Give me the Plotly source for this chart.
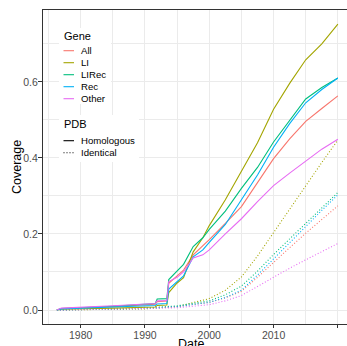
import plotly.graph_objects as go

# ---------------- data ----------------
genes = ["All", "LI", "LIRec", "Rec", "Other"]
gene_colors = ["#F8766D", "#A3A500", "#00BF7D", "#00B0F6", "#E76BF3"]
pdb_types = ["Homologous", "Identical"]
pdb_dash = ["solid", "1px,2px"]

years_hom = [1976.3, 1977, 1985, 1991.6, 1991.9, 1993.4, 1993.7, 1995, 1996, 1997.5,
             1999, 2000, 2002.5, 2005, 2007.5, 2010, 2012.5, 2015, 2017.5, 2020]
all_hom = [0.0, 0.004, 0.009, 0.015, 0.022, 0.024, 0.070, 0.089, 0.105, 0.145,
           0.168, 0.185, 0.228, 0.272, 0.335, 0.398, 0.450, 0.496, 0.530, 0.563]
li_hom = [0.0, 0.002, 0.005, 0.008, 0.012, 0.013, 0.046, 0.071, 0.085, 0.153,
          0.190, 0.222, 0.290, 0.365, 0.440, 0.528, 0.596, 0.658, 0.700, 0.752]
lirec_hom = [0.0, 0.004, 0.010, 0.017, 0.029, 0.030, 0.080, 0.103, 0.120, 0.167,
             0.190, 0.212, 0.260, 0.320, 0.375, 0.442, 0.500, 0.555, 0.585, 0.610]
rec_hom = [0.0, 0.003, 0.008, 0.012, 0.016, 0.017, 0.055, 0.076, 0.090, 0.140,
           0.158, 0.178, 0.225, 0.290, 0.355, 0.428, 0.490, 0.545, 0.580, 0.610]
other_hom = [0.0, 0.005, 0.011, 0.017, 0.024, 0.025, 0.075, 0.086, 0.100, 0.137,
             0.145, 0.158, 0.200, 0.240, 0.285, 0.327, 0.360, 0.392, 0.423, 0.449]

years_ide = [1976.3, 1985, 1990, 1995, 2000, 2002.5, 2005, 2007.5, 2010, 2012.5, 2015, 2017.5, 2020]
all_ide = [0.0, 0.002, 0.004, 0.009, 0.020, 0.032, 0.049, 0.086, 0.126, 0.164, 0.202, 0.238, 0.274]
li_ide = [0.0, 0.001, 0.003, 0.009, 0.030, 0.052, 0.087, 0.142, 0.204, 0.263, 0.327, 0.388, 0.447]
lirec_ide = [0.0, 0.002, 0.005, 0.011, 0.024, 0.040, 0.063, 0.102, 0.146, 0.187, 0.228, 0.268, 0.309]
rec_ide = [0.0, 0.002, 0.004, 0.009, 0.020, 0.033, 0.052, 0.092, 0.135, 0.178, 0.219, 0.262, 0.303]
other_ide = [0.0, 0.002, 0.003, 0.006, 0.014, 0.024, 0.038, 0.062, 0.088, 0.110, 0.132, 0.153, 0.175]

x_tick_vals = [1980, 1990, 2000, 2010, 2020]
y_tick_vals = [0.0, 0.2, 0.4, 0.6]
y_tick_text = ["0.0", "0.2", "0.4", "0.6"]
x_title = "Date"
y_title = "Coverage"

hom_series = [all_hom, li_hom, lirec_hom, rec_hom, other_hom]
ide_series = [all_ide, li_ide, lirec_ide, rec_ide, other_ide]

# ---------------- figure ----------------
W, H = 347, 346
ML, MR, MT, MB = 43, 0, 10, 22
FONT = "Liberation Sans, Arial, sans-serif"
LW = 1.1

fig = go.Figure()
for g, c, ys in zip(genes, gene_colors, ide_series):
    fig.add_trace(go.Scatter(x=years_ide, y=ys, mode="lines", name=g + " (Identical)",
                             line=dict(color=c, width=LW, dash=pdb_dash[1]), showlegend=False))
for g, c, ys in zip(genes, gene_colors, hom_series):
    fig.add_trace(go.Scatter(x=years_hom, y=ys, mode="lines", name=g + " (Homologous)",
                             line=dict(color=c, width=LW), showlegend=False))

grid = "#EBEBEB"
axis_col = "#333333"
fig.update_xaxes(range=[1974.14, 2021.42], tickvals=x_tick_vals, ticks="outside", ticklen=3,
                 tickcolor=axis_col, tickwidth=1, showline=True, linecolor=axis_col, linewidth=1,
                 mirror=True, showgrid=True, gridcolor=grid, gridwidth=1, zeroline=False,
                 tickfont=dict(family=FONT, size=10.5, color="#4D4D4D"), ticklabelstandoff=-2,
                 minor=dict(tick0=1975, dtick=10, showgrid=True, gridcolor=grid, gridwidth=0.6, ticks=""),
                 automargin=False)
fig.update_yaxes(range=[-0.0368, 0.789], tickvals=y_tick_vals, ticktext=y_tick_text, ticks="outside",
                 ticklen=4, tickcolor=axis_col, tickwidth=1, showline=True, linecolor=axis_col,
                 linewidth=1, showgrid=True, gridcolor=grid, gridwidth=1, zeroline=False,
                 tickfont=dict(family=FONT, size=10.5, color="#4D4D4D"), ticklabelstandoff=-2,
                 minor=dict(tick0=0.1, dtick=0.2, showgrid=True, gridcolor=grid, gridwidth=0.6, ticks=""),
                 automargin=False)

# ---------------- manual legend (ggplot-style spacing) and axis titles ----------------
pw, ph = W - ML - MR, H - MT - MB


def px(x):
    return (x - ML) / pw


def py(y):
    return (H - MB - y) / ph


shapes = []
annotations = []
annotations.append(dict(text=x_title, xref="paper", yref="paper", x=px(190.5), y=py(344), xanchor="center",
                        yanchor="middle", showarrow=False, font=dict(family=FONT, size=12.5, color="black")))
annotations.append(dict(text=y_title, xref="paper", yref="paper", x=px(17), y=py(167), xanchor="center",
                        yanchor="middle", textangle=-90, showarrow=False,
                        font=dict(family=FONT, size=12.5, color="black")))
shapes.append(dict(type="rect", xref="paper", yref="paper", x0=px(59), x1=px(111), y0=py(104), y1=py(28),
                   fillcolor="white", line=dict(width=0), layer="above"))
shapes.append(dict(type="rect", xref="paper", yref="paper", x0=px(59), x1=px(139), y0=py(162), y1=py(115),
                   fillcolor="white", line=dict(width=0), layer="above"))
annotations.append(dict(text="Gene", xref="paper", yref="paper", x=px(62), y=py(35.5), xanchor="left",
                        yanchor="middle", showarrow=False, font=dict(family=FONT, size=11, color="black")))
for i, (g, c) in enumerate(zip(genes, gene_colors)):
    yy = 50.7 + i * 12
    shapes.append(dict(type="line", xref="paper", yref="paper", x0=px(63.5), x1=px(74), y0=py(yy), y1=py(yy),
                       line=dict(color=c, width=LW), layer="above"))
    annotations.append(dict(text=g, xref="paper", yref="paper", x=px(79), y=py(yy), xanchor="left",
                            yanchor="middle", showarrow=False,
                            font=dict(family=FONT, size=9.6, color="black")))
annotations.append(dict(text="PDB", xref="paper", yref="paper", x=px(62), y=py(124), xanchor="left",
                        yanchor="middle", showarrow=False, font=dict(family=FONT, size=11, color="black")))
for i, (p, d) in enumerate(zip(pdb_types, pdb_dash)):
    yy = 140.7 + i * 12
    shapes.append(dict(type="line", xref="paper", yref="paper", x0=px(63.5), x1=px(74), y0=py(yy), y1=py(yy),
                       line=dict(color="black", width=LW, dash=d), layer="above"))
    annotations.append(dict(text=p, xref="paper", yref="paper", x=px(79), y=py(yy), xanchor="left",
                            yanchor="middle", showarrow=False,
                            font=dict(family=FONT, size=9.6, color="black")))

fig.update_layout(width=W, height=H, margin=dict(l=ML, r=MR, t=MT, b=MB, pad=0),
                  paper_bgcolor="white", plot_bgcolor="white", showlegend=False,
                  shapes=shapes, annotations=annotations, font=dict(family=FONT))

fig.write_html("out.html", config={"displayModeBar": False},
               post_script="document.body.style.margin='0';document.body.style.overflow='hidden';")
